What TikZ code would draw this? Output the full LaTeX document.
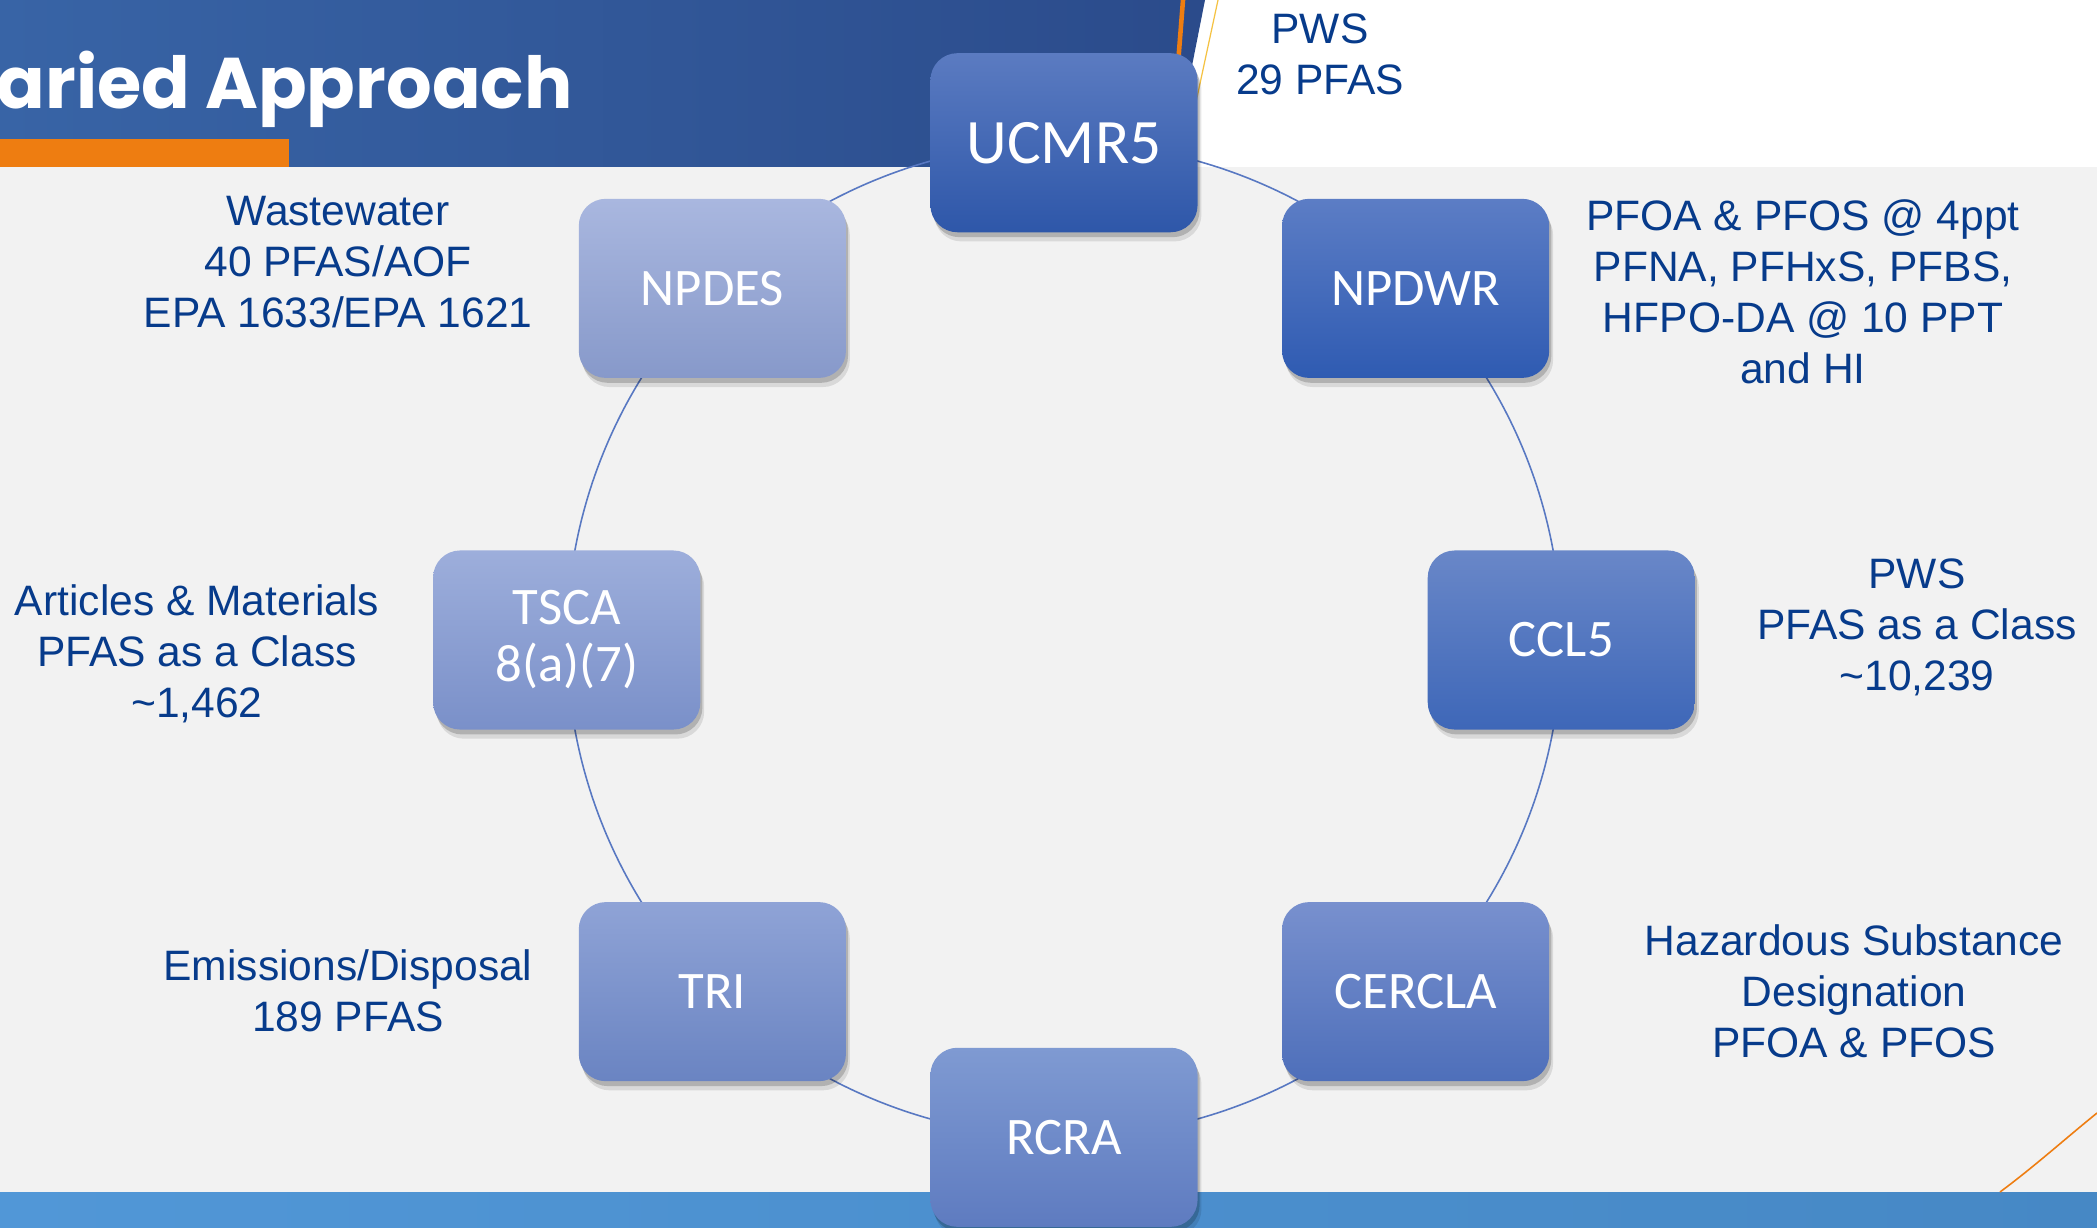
\documentclass[tikz,border=0pt]{standalone}
\usepackage{fontspec}
\setmainfont{Liberation Sans}
\newfontfamily\boxfont{Carlito}
\newfontfamily\titlefont{Poppins}
\usetikzlibrary{shadows,backgrounds}
\definecolor{hdrL}{HTML}{3864A6}
\definecolor{hdrR}{HTML}{2B4B8B}
\definecolor{pale}{HTML}{F2F2F2}
\definecolor{accent}{HTML}{EE7D11}
\definecolor{gold}{HTML}{F5C242}
\definecolor{barL}{HTML}{5197D7}
\definecolor{barR}{HTML}{4688C5}
\definecolor{notetxt}{HTML}{073B8B}
\definecolor{ring}{HTML}{5878C2}
\definecolor{ucT}{HTML}{5B7BC1}\definecolor{ucB}{HTML}{2E57A9}
\definecolor{dwT}{HTML}{5C7DC5}\definecolor{dwB}{HTML}{2F5BB2}
\definecolor{clT}{HTML}{6987C8}\definecolor{clB}{HTML}{3E67B8}
\definecolor{ceT}{HTML}{7890CE}\definecolor{ceB}{HTML}{4E6FBA}
\definecolor{rcT}{HTML}{7F9AD2}\definecolor{rcB}{HTML}{5E7BC0}
\definecolor{trT}{HTML}{8FA3D6}\definecolor{trB}{HTML}{6A84C2}
\definecolor{tsT}{HTML}{9DAEDB}\definecolor{tsB}{HTML}{7A90C9}
\definecolor{npT}{HTML}{A9B7DF}\definecolor{npB}{HTML}{8799CA}

\begin{document}
\begin{tikzpicture}[x=0.01cm, y=-0.01cm]
\tikzset{reg/.style 2 args={rounded corners=0.27cm, minimum width=2.67cm, minimum height=1.79cm, inner sep=0pt,
    top color=#1, bottom color=#2, text=white, align=center, font=\boxfont\fontsize{15}{16.2}\selectfont,
    general shadow={fill=black, opacity=0.10, shadow xshift=1.1pt, shadow yshift=-2.6pt},
    general shadow={fill=black, opacity=0.18, shadow xshift=0.6pt, shadow yshift=-1.4pt}},
  note/.style={text=notetxt, align=center, font=\fontsize{12.1}{14.5}\selectfont}}
\useasboundingbox (0,0) rectangle (2097,1227);
\node[anchor=base west, inner sep=0pt, text=white, font=\titlefont\bfseries\fontsize{20.4}{24}\selectfont] (title) at (-4,108) {aried Approach};
% the eight programmes on the ring
\begin{scope}[shift={(1064,640)}]
\node[reg={ucT}{ucB}, font=\boxfont\fontsize{18}{20}\selectfont] (UCMR5) at (90:4.97cm) {UCMR5};
\node[reg={dwT}{dwB}] (NPDWR) at (45:4.97cm) {NPDWR};
\node[reg={clT}{clB}] (CCL5) at (0:4.97cm) {CCL5};
\node[reg={ceT}{ceB}] (CERCLA) at (-45:4.97cm) {CERCLA};
\node[reg={rcT}{rcB}] (RCRA) at (-90:4.97cm) {RCRA};
\node[reg={trT}{trB}] (TRI) at (-135:4.97cm) {TRI};
\node[reg={tsT}{tsB}] (TSCA) at (180:4.97cm) {TSCA\\8(a)(7)};
\node[reg={npT}{npB}] (NPDES) at (135:4.97cm) {NPDES};
\end{scope}
% notes
\node[note] (pws) at (1320,54) {PWS\\29 PFAS};
\node[note] (waste) at (338,262) {Wastewater\\40 PFAS/AOF\\EPA 1633/EPA 1621};
\node[note] (drink) at (1803,292) {PFOA \& PFOS @ 4ppt\\PFNA, PFHxS, PFBS,\\HFPO-DA @ 10 PPT\\and HI};
\node[note] (articles) at (197,654) {Articles \& Materials\\PFAS as a Class\\\textasciitilde1,462};
\node[note] (classnote) at (1917,627) {PWS\\PFAS as a Class\\\textasciitilde10,239};
\node[note] (release) at (348,991) {Emissions/Disposal\\189 PFAS};
\node[note] (hazard) at (1854,991) {Hazardous Substance\\Designation\\PFOA \& PFOS};
\begin{pgfonlayer}{background}
\fill[white] (0,0) rectangle (2097,167);
\shade[left color=hdrL, right color=hdrR] (0,0) -- (1205,0) -- (1172,167) -- (0,167) -- cycle;
\draw[accent, line width=1.3pt] (1183,0) -- (1170,167);
\draw[gold, line width=0.35pt] (1218,0) -- (1182,167);
\fill[accent] (0,139) rectangle (289,167);
\fill[pale] (0,167) rectangle (2097,1192);
\shade[left color=barL, right color=barR] (0,1192) rectangle (2097,1227);
\draw[accent, line width=0.45pt] (2000,1192) .. controls (2035,1166) and (2066,1138) .. (2097,1113);
% ring
\draw[ring, line width=0.45pt] (UCMR5.center) to[bend left=22.5, looseness=0.885] (NPDWR.center);
\draw[ring, line width=0.45pt] (NPDWR.center) to[bend left=22.5, looseness=0.885] (CCL5.center);
\draw[ring, line width=0.45pt] (CCL5.center) to[bend left=22.5, looseness=0.885] (CERCLA.center);
\draw[ring, line width=0.45pt] (CERCLA.center) to[bend left=22.5, looseness=0.885] (RCRA.center);
\draw[ring, line width=0.45pt] (RCRA.center) to[bend left=22.5, looseness=0.885] (TRI.center);
\draw[ring, line width=0.45pt] (TRI.center) to[bend left=22.5, looseness=0.885] (TSCA.center);
\draw[ring, line width=0.45pt] (TSCA.center) to[bend left=22.5, looseness=0.885] (NPDES.center);
\draw[ring, line width=0.45pt] (NPDES.center) to[bend left=22.5, looseness=0.885] (UCMR5.center);
\end{pgfonlayer}
\end{tikzpicture}
\end{document}
